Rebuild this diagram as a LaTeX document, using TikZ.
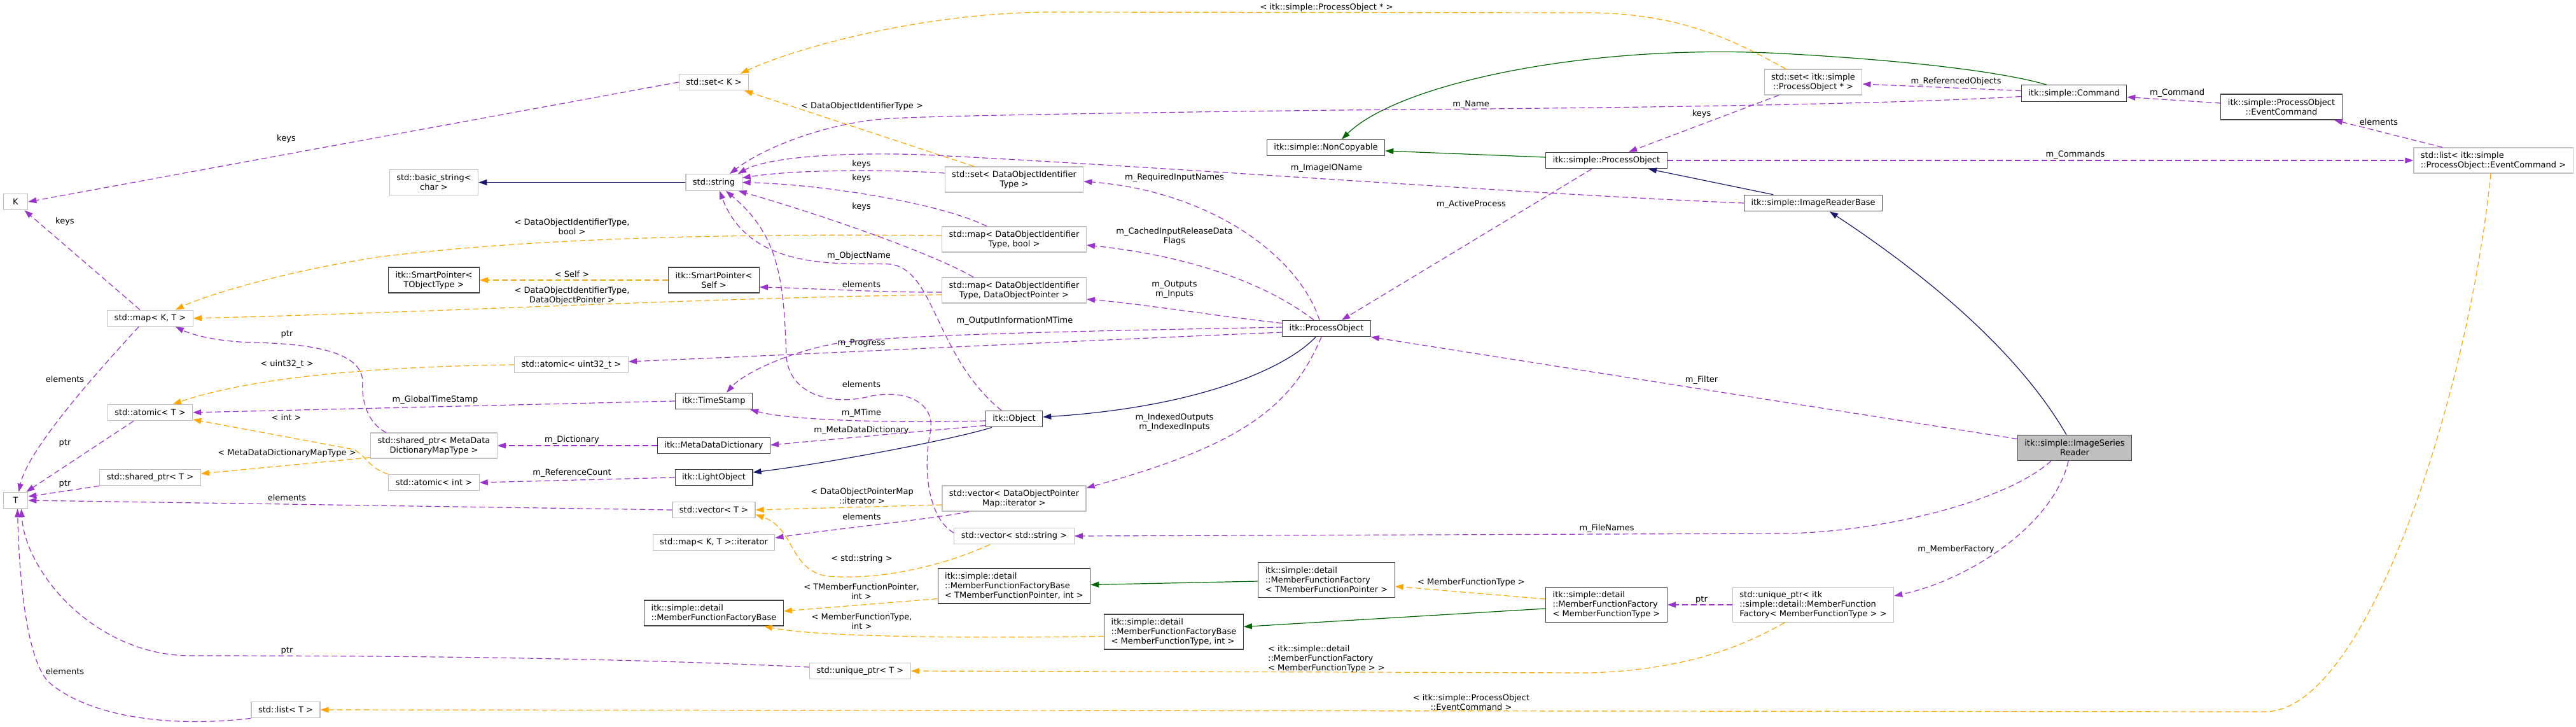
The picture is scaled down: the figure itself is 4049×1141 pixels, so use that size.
\documentclass[tikz,border=0pt]{standalone}
\usepackage{fontspec}
\setmainfont{DejaVu Sans}
\usetikzlibrary{arrows.meta}
\definecolor{usepurple}{HTML}{9A32CD}
\definecolor{tmplorange}{HTML}{FFA500}
\definecolor{inhblue}{HTML}{191970}
\definecolor{privgreen}{HTML}{006400}
\definecolor{docgrey}{HTML}{404040}
\definecolor{extgrey}{HTML}{BFBFBF}
\newcommand{\dgfont}{\fontsize{13}{15}\selectfont}

\begin{document}
\begin{tikzpicture}[x=1pt, y=-1pt,
	box/.style={rectangle, font=\dgfont, inner xsep=11pt, inner ysep=2pt,
		minimum width=38.4pt, minimum height=25.5pt, align=center,
		fill=white, line width=1.2pt},
	cls/.style={box, draw=docgrey},
	ext/.style={box, draw=extgrey},
	two/.style={minimum height=40pt},
	three/.style={minimum height=55pt},
	lbl/.style={font=\dgfont, inner sep=0pt, align=center},
	link/.style={line width=1.2pt, -{Triangle[length=13pt, width=9pt]}},
	usage/.style={link, usepurple, dash pattern=on 9pt off 5pt},
	tmpl/.style={link, tmplorange, dash pattern=on 9pt off 5pt},
	inher/.style={link, inhblue},
	privinh/.style={link, privgreen}
	]
	\useasboundingbox (0,0) rectangle (4049,1141);

	% class boxes
	\node[ext] (K) at (24.5,317) {K};
	\node[ext] (T) at (24.5,786) {T};
	\node[ext] (mapKT) at (236,500) {std::map< K, T >};
	\node[ext] (atT) at (236,648) {std::atomic< T >};
	\node[ext] (spT) at (236,750) {std::shared\_ptr< T >};
	\node[ext] (listT) at (449,1115) {std::list< T >};
	\node[ext, two] (bstr) at (682,286.5) {std::basic\_string<\\char >};
	\node[cls, two] (spTOT) at (682,440) {itk::SmartPointer<\\TObjectType >};
	\node[ext, two] (spMD) at (682,700) {std::shared\_ptr< MetaData\\DictionaryMapType >};
	\node[ext] (atInt) at (682,758) {std::atomic< int >};
	\node[ext] (atU32) at (898,573) {std::atomic< uint32\_t >};
	\node[ext] (setK) at (1122,129) {std::set< K >};
	\node[ext] (str) at (1122,286.5) {std::string};
	\node[cls, two] (spSelf) at (1122,440) {itk::SmartPointer<\\Self >};
	\node[cls] (ts) at (1122,630) {itk::TimeStamp};
	\node[cls] (mdd) at (1122,700) {itk::MetaDataDictionary};
	\node[cls] (lo) at (1122,750) {itk::LightObject};
	\node[ext] (vecT) at (1122,801) {std::vector< T >};
	\node[ext] (mapIt) at (1122,852) {std::map< K, T >::iterator};
	\node[cls, two, align=left] (mffb) at (1122,963) {itk::simple::detail\\::MemberFunctionFactoryBase};
	\node[ext] (upT) at (1352,1054) {std::unique\_ptr< T >};
	\node[ext, two] (setDOI) at (1594,282) {std::set< DataObjectIdentifier\\Type >};
	\node[ext, two] (mapBool) at (1594,376) {std::map< DataObjectIdentifier\\Type, bool >};
	\node[ext, two] (mapDOP) at (1594,456) {std::map< DataObjectIdentifier\\Type, DataObjectPointer >};
	\node[cls] (obj) at (1594,658) {itk::Object};
	\node[ext, two] (vecDOPM) at (1594,783) {std::vector< DataObjectPointer\\Map::iterator >};
	\node[ext] (vecStr) at (1594,842) {std::vector< std::string >};
	\node[cls, three, align=left] (mffbTMFP) at (1594,920.5) {itk::simple::detail\\::MemberFunctionFactoryBase\\< TMemberFunctionPointer, int >};
	\node[cls, three, align=left] (mffbMFT) at (1845,992.5) {itk::simple::detail\\::MemberFunctionFactoryBase\\< MemberFunctionType, int >};
	\node[cls] (itkPO) at (2085,516) {itk::ProcessObject};
	\node[cls] (nonCopy) at (2084,232) {itk::simple::NonCopyable};
	\node[cls, three, align=left] (mffTMFP) at (2085,911) {itk::simple::detail\\::MemberFunctionFactory\\< TMemberFunctionPointer >};
	\node[cls] (simplePO) at (2525,252) {itk::simple::ProcessObject};
	\node[cls, three, align=left] (mffMFT) at (2525,950) {itk::simple::detail\\::MemberFunctionFactory\\< MemberFunctionType >};
	\node[ext, two] (setSPO) at (2850,129) {std::set< itk::simple\\::ProcessObject * >};
	\node[cls] (irb) at (2850,319) {itk::simple::ImageReaderBase};
	\node[ext, three, align=left] (upItk) at (2850,950) {std::unique\_ptr< itk\\::simple::detail::MemberFunction\\Factory< MemberFunctionType > >};
	\node[cls] (cmd) at (3260,146.5) {itk::simple::Command};
	\node[cls, two, fill=extgrey] (isr) at (3261,703.5) {itk::simple::ImageSeries\\Reader};
	\node[cls, two] (evCmd) at (3586,168) {itk::simple::ProcessObject\\::EventCommand};
	\node[ext, two, align=left] (listEC) at (3919,252) {std::list< itk::simple\\::ProcessObject::EventCommand >};

	% inheritance
	\draw[inher] (str.west) -- (bstr.east);
	\draw[inher] ([xshift=-17pt]itkPO.south) .. controls (2020,580) and (1880,640) .. ([yshift=3pt]obj.east);
	\draw[inher] ([xshift=-35pt]obj.south) .. controls (1500,690) and (1300,728) .. ([yshift=8pt]lo.east);
	\draw[inher] ([xshift=-63pt]irb.north) -- ([xshift=66pt]simplePO.south);
	\draw[inher] ([xshift=-13pt]isr.north) .. controls (3200,600) and (3100,480) .. ([xshift=26pt]irb.south);
	\draw[privinh] ([yshift=5pt]simplePO.west) -- ([yshift=-5pt]nonCopy.east);
	\draw[privinh] ([xshift=-43pt]cmd.north) .. controls (3130,108) and (2950,92) .. (2800,84)
		.. controls (2500,68) and (2200,130) .. ([xshift=25pt]nonCopy.north);
	\draw[privinh] ([yshift=-2pt]mffTMFP.west) -- ([yshift=2pt]mffbTMFP.east);
	\draw[privinh] ([yshift=-6pt]mffMFT.west) -- ([yshift=8pt]mffbMFT.east);

	% template instances
	\draw[tmpl] ([xshift=-43pt]setSPO.north) .. controls (2720,60) and (2640,22) .. (2500,20) -- (1650,19)
		.. controls (1450,20) and (1250,75) .. ([xshift=42pt]setK.north);
	\draw[tmpl] ([xshift=-63pt]setDOI.north) -- ([xshift=48pt]setK.south);
	\draw[tmpl] (spSelf.west) -- (spTOT.east);
	\draw[tmpl] ([yshift=6pt]mapBool.west) .. controls (1000,365) and (750,385) .. (600,403)
		.. controls (450,425) and (320,465) .. ([xshift=40pt]mapKT.north);
	\draw[tmpl] ([yshift=-7pt]mapDOP.west) .. controls (1100,468) and (700,490) .. (mapKT.east);
	\draw[tmpl] (atU32.west) .. controls (650,575) and (420,585) .. ([xshift=36pt]atT.north);
	\draw[tmpl] (atInt.north west) .. controls (582,737) and (575,716) .. (556,706) -- ([yshift=-11pt]atT.east);
	\draw[tmpl] ([yshift=2pt]spMD.south west) -- ([yshift=6pt]spT.east);
	\draw[tmpl] ([yshift=-10pt]vecDOPM.west) -- (vecT.east);
	\draw[tmpl] ([xshift=-38pt]vecStr.south) .. controls (1480,890) and (1380,912) .. (1300,905)
		.. controls (1240,895) and (1250,830) .. ([yshift=6pt]vecT.south east);
	\draw[tmpl] ([yshift=-20pt]mffbTMFP.west) -- ([yshift=3pt]mffb.east);
	\draw[tmpl] ([yshift=-7pt]mffbMFT.west) .. controls (1500,1003) and (1280,1000) .. ([xshift=-31pt]mffb.south east);
	\draw[tmpl] ([yshift=9pt]mffMFT.west) -- ([yshift=-10pt]mffTMFP.east);
	\draw[tmpl] ([xshift=-45pt]upItk.south) .. controls (2740,1015) and (2650,1052) .. (2500,1057) -- (upT.east);
	\draw[tmpl] ([xshift=-4pt]listEC.south) .. controls (3880,620) and (3720,1118) .. (3560,1118) -- (listT.east);

	% members
	\draw[usage] (setK.west) -- (K.east);
	\draw[usage] ([xshift=-16pt]mapKT.north) -- ([xshift=14pt]K.south);
	\draw[usage] ([xshift=-18pt]mapKT.south) .. controls (180,555) and (45,700) .. ([xshift=5pt]T.north);
	\draw[usage] ([xshift=-26pt]atT.south) -- ([xshift=-3pt]T.north east);
	\draw[usage] (spT.south west) -- ([yshift=6pt]T.east);
	\draw[usage] (vecT.west) -- (T.east);
	\draw[usage] ([yshift=6pt]upT.west) .. controls (1000,1035) and (700,1030) .. (300,1030)
		.. controls (150,1030) and (40,900) .. ([xshift=9pt]T.south);
	\draw[usage] (listT.south west) .. controls (250,1145) and (130,1120) .. (75,1070)
		.. controls (40,1030) and (30,900) .. ([xshift=3pt]T.south);
	\draw[usage] ([yshift=-5pt]cmd.west) .. controls (2950,165) and (2500,170) .. (2100,173)
		.. controls (1700,178) and (1480,182) .. (1400,186) .. controls (1300,192) and (1200,232) .. ([xshift=25pt]str.north);
	\draw[usage] ([yshift=10pt]setDOI.west) .. controls (1400,266) and (1250,266) .. ([yshift=7pt]str.east);
	\draw[usage] ([xshift=-43pt]mapBool.north) .. controls (1480,320) and (1300,290) .. (str.east);
	\draw[usage] ([xshift=-64pt]mapDOP.north) .. controls (1470,400) and (1300,340) .. ([xshift=-6pt]str.south east);
	\draw[usage] ([xshift=-20pt]obj.north) .. controls (1470,560) and (1470,425) .. (1400,415)
		.. controls (1330,412) and (1180,430) .. ([xshift=9pt]str.south);
	\draw[usage] ([yshift=5pt]vecStr.west) .. controls (1460,815) and (1450,740) .. (1462,680)
		.. controls (1472,630) and (1420,612) .. (1370,622) .. controls (1300,640) and (1240,615) .. (1236,560)
		.. controls (1232,440) and (1225,370) .. ([xshift=19pt]str.south);
	\draw[usage] (irb.west) .. controls (2400,305) and (1800,260) .. (1450,243)
		.. controls (1300,238) and (1200,250) .. ([xshift=38pt]str.north);
	\draw[usage] ([yshift=-3pt]mapDOP.west) .. controls (1400,460) and (1250,452) .. ([yshift=-11pt]spSelf.east);
	\draw[usage] ([xshift=-75pt]spMD.north) .. controls (578,665) and (568,630) .. (570,600)
		.. controls (570,550) and (480,540) .. (400,538) .. controls (340,537) and (300,525) .. ([xshift=40pt]mapKT.south);
	\draw[usage] (ts.west) -- (atT.east);
	\draw[usage] (mdd.west) -- (spMD.east);
	\draw[usage] (lo.west) -- (atInt.east);
	\draw[usage] ([yshift=-6pt]itkPO.west) .. controls (1700,535) and (1300,555) .. ([yshift=5pt]atU32.east);
	\draw[usage] ([yshift=2pt]itkPO.west) .. controls (1700,520) and (1450,525) .. (1330,537)
		.. controls (1250,548) and (1170,585) .. ([xshift=20pt]ts.north);
	\draw[usage] ([yshift=-3pt]obj.west) .. controls (1400,665) and (1240,660) .. ([xshift=-4pt]ts.south east);
	\draw[usage] ([yshift=3pt]obj.south west) -- ([yshift=1pt]mdd.east);
	\draw[usage] ([xshift=-23pt]simplePO.south) -- ([xshift=24pt]itkPO.north);
	\draw[usage] ([yshift=14pt]isr.west) -- (itkPO.south east);
	\draw[usage] ([xshift=-8pt]itkPO.south) .. controls (2030,640) and (1950,700) .. ([yshift=-4pt]vecDOPM.north east);
	\draw[usage] ([xshift=-11pt]itkPO.north) .. controls (2040,400) and (1900,300) .. ([yshift=-3pt]setDOI.east);
	\draw[usage] ([xshift=-20pt]itkPO.north) .. controls (2010,460) and (1900,405) .. ([yshift=-9pt]mapBool.east);
	\draw[usage] ([yshift=-5pt]itkPO.north west) .. controls (1900,495) and (1800,478) .. ([yshift=-14pt]mapDOP.east);
	\draw[usage] ([xshift=-37pt]isr.south) .. controls (3150,790) and (2950,837) .. (2800,838) -- (vecStr.east);
	\draw[usage] ([xshift=-10pt]isr.south) .. controls (3230,820) and (3100,910) .. ([yshift=14pt]upItk.east);
	\draw[usage] (upItk.west) -- (mffMFT.east);
	\draw[usage] ([xshift=-71pt]vecDOPM.south) .. controls (1470,815) and (1300,832) .. ([yshift=7pt]mapIt.east);
	\draw[usage] ([xshift=-80pt]listEC.north) -- ([xshift=83pt]evCmd.south);
	\draw[usage] ([yshift=6pt]evCmd.west) -- ([yshift=-6pt]cmd.east);
	\draw[usage] ([yshift=4pt]cmd.west) -- ([yshift=-3pt]setSPO.east);
	\draw[usage] ([xshift=-54pt]setSPO.south) -- ([xshift=35pt]simplePO.north);
	\draw[usage] (simplePO.east) -- (listEC.west);

	% edge labels
	\node[lbl] (l-keys-set) at (450,218) {keys};
	\node[lbl] (l-keys-map) at (102,348) {keys};
	\node[lbl] (l-el-map) at (102,595.5) {elements};
	\node[lbl] (l-ptr-at) at (102,696.5) {ptr};
	\node[lbl] (l-ptr-sp) at (102,760) {ptr};
	\node[lbl] (l-el-vec) at (451,782) {elements};
	\node[lbl] (l-ptr-up) at (451,1022) {ptr};
	\node[lbl] (l-el-list) at (102,1055) {elements};
	\node[lbl] (l-name) at (2312,164.6) {m\_Name};
	\node[lbl] (l-keys-s1) at (1354,258) {keys};
	\node[lbl] (l-keys-s2) at (1354,280) {keys};
	\node[lbl] (l-keys-s3) at (1354,324.5) {keys};
	\node[lbl] (l-objname) at (1350,402.5) {m\_ObjectName};
	\node[lbl] (l-el-str) at (1354,604) {elements};
	\node[lbl] (l-ioname) at (2085,264) {m\_ImageIOName};
	\node[lbl] (l-spo) at (2085,11.5) {< itk::simple::ProcessObject * >};
	\node[lbl] (l-doit) at (1355,166.5) {< DataObjectIdentifierType >};
	\node[lbl] (l-self) at (899,431) {< Self >};
	\node[lbl] (l-el-sp) at (1354,446.5) {elements};
	\node[lbl] (l-bool) at (899,356) {< DataObjectIdentifierType,\\bool >};
	\node[lbl] (l-dop) at (899,464) {< DataObjectIdentifierType,\\DataObjectPointer >};
	\node[lbl] (l-ptr-md) at (451,525) {ptr};
	\node[lbl] (l-u32) at (451,572) {< uint32\_t >};
	\node[lbl] (l-gts) at (684,628) {m\_GlobalTimeStamp};
	\node[lbl] (l-int) at (450,656) {< int >};
	\node[lbl] (l-mdmt) at (451,712) {< MetaDataDictionaryMapType >};
	\node[lbl] (l-dict) at (899,691) {m\_Dictionary};
	\node[lbl] (l-refc) at (899,743) {m\_ReferenceCount};
	\node[lbl] (l-prog) at (1354,539) {m\_Progress};
	\node[lbl] (l-oimt) at (1595,504) {m\_OutputInformationMTime};
	\node[lbl] (l-mtime) at (1354,649) {m\_MTime};
	\node[lbl] (l-mdd) at (1354,676) {m\_MetaDataDictionary};
	\node[lbl] (l-active) at (2312.5,320.8) {m\_ActiveProcess};
	\node[lbl] (l-filter) at (2674.5,596.6) {m\_Filter};
	\node[lbl] (l-indexed) at (1846,663.6) {m\_IndexedOutputs\\m\_IndexedInputs};
	\node[lbl] (l-req) at (1846,278.6) {m\_RequiredInputNames};
	\node[lbl] (l-cached) at (1846,371) {m\_CachedInputReleaseData\\Flags};
	\node[lbl] (l-outin) at (1846,455) {m\_Outputs\\m\_Inputs};
	\node[lbl] (l-files) at (2525.5,830) {m\_FileNames};
	\node[lbl] (l-mfac) at (3074.5,863) {m\_MemberFactory};
	\node[lbl] (l-ptr-mf) at (2674.5,942) {ptr};
	\node[lbl] (l-dopm) at (1355,779.5) {< DataObjectPointerMap\\::iterator >};
	\node[lbl] (l-stdstr) at (1354.5,878) {< std::string >};
	\node[lbl] (l-el-it) at (1354.5,811.6) {elements};
	\node[lbl] (l-tmfp) at (1354,929) {< TMemberFunctionPointer,\\int >};
	\node[lbl] (l-mft) at (1354.5,976.5) {< MemberFunctionType,\\int >};
	\node[lbl] (l-mft2) at (2312.5,915) {< MemberFunctionType >};
	\node[lbl, align=left] (l-mff) at (2085,1034.6) {< itk::simple::detail\\::MemberFunctionFactory\\< MemberFunctionType > >};
	\node[lbl] (l-evc) at (2312.5,1103) {< itk::simple::ProcessObject\\::EventCommand >};
	\node[lbl] (l-el-ev) at (3739,191.6) {elements};
	\node[lbl] (l-cmd) at (3422,146.5) {m\_Command};
	\node[lbl] (l-refobj) at (3074.5,127.6) {m\_ReferencedObjects};
	\node[lbl] (l-keys-spo) at (2674.5,178.7) {keys};
	\node[lbl] (l-cmds) at (3262,243.4) {m\_Commands};
\end{tikzpicture}
\end{document}
